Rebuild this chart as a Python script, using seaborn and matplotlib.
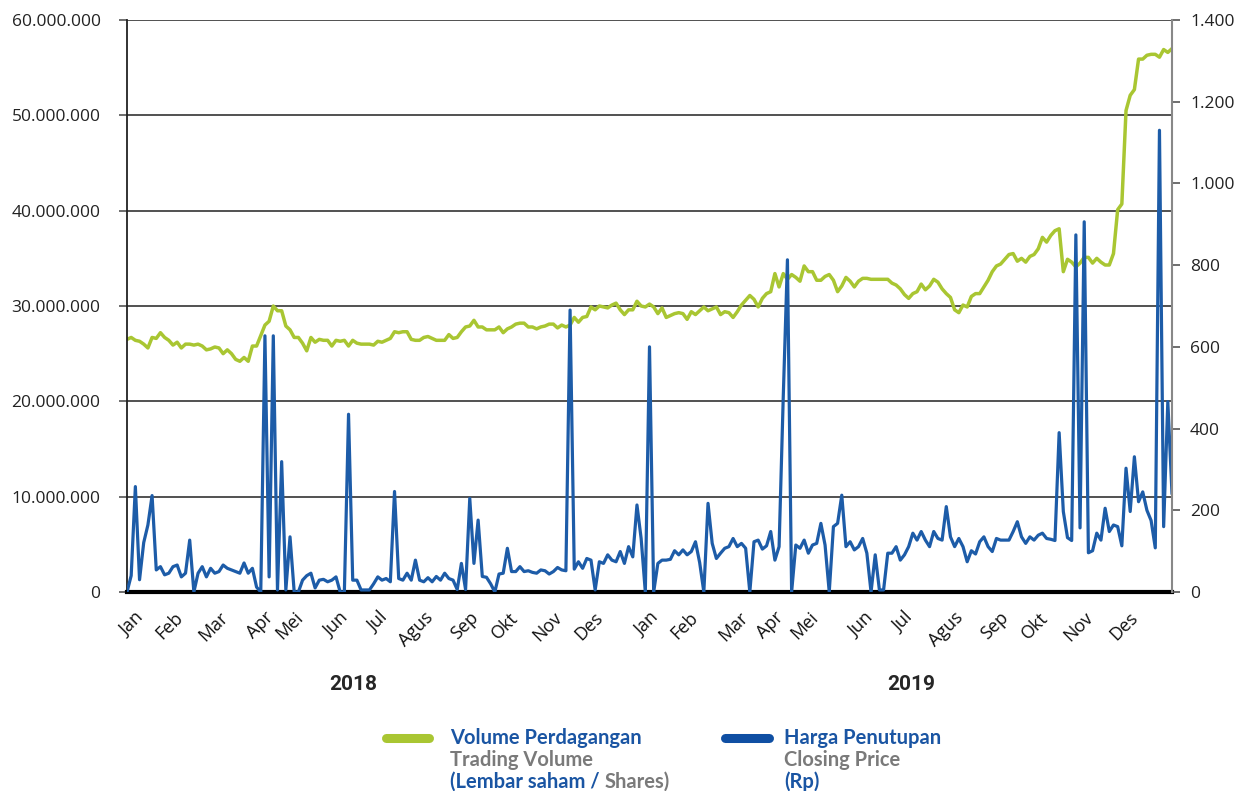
"""
Grafik volume perdagangan dan harga penutupan saham 2018-2019.
Output: out.png
"""

import matplotlib
matplotlib.use("Agg")

import numpy as np
import pandas as pd
import matplotlib.pyplot as plt
from matplotlib.lines import Line2D
from matplotlib.ticker import FuncFormatter, FixedLocator
import seaborn as sns

# DATA (satu titik per ~2 hari bursa)

# Volume perdagangan, dalam juta lembar saham
volume_juta = [
    26.5, 26.7, 26.4, 26.3, 26.0, 25.6, 26.7, 26.6, 27.2, 26.7,
    26.4, 25.9, 26.2, 25.6, 26.0, 26.0, 25.9, 26.0, 25.8, 25.4,
    25.5, 25.7, 25.6, 25.0, 25.4, 25.0, 24.4, 24.2, 24.6, 24.2,
    25.8, 25.8, 26.9, 28.0, 28.4, 30.0, 29.5, 29.5, 27.9, 27.5,
    26.7, 26.7, 26.1, 25.3, 26.7, 26.2, 26.5, 26.4, 26.4, 25.8,
    26.4, 26.3, 26.4, 25.8, 26.4, 26.1, 26.0, 26.0, 26.0, 25.9,
    26.3, 26.2, 26.4, 26.6, 27.3,
    27.2, 27.3, 27.3, 26.5, 26.4, 26.4, 26.7, 26.8, 26.6, 26.4,
    26.4, 26.4, 27.0, 26.6, 26.7, 27.3, 27.8, 27.9, 28.5, 27.8,
    27.8, 27.5, 27.5, 27.5, 27.8, 27.2, 27.6, 27.8, 28.1, 28.2,
    28.2, 27.8, 27.8, 27.6, 27.8, 27.9, 28.1, 28.1, 27.7, 28.0,
    27.8, 28.0, 28.8, 28.3, 28.8, 28.9, 29.9, 29.6, 30.0, 29.9,
    29.8, 30.1, 30.3, 29.6, 29.1, 29.6, 29.6, 30.5, 30.0, 29.9,
    30.2, 29.9, 29.2, 29.8,
    28.8, 29.0, 29.2, 29.3, 29.2, 28.6, 29.4, 29.1, 29.5, 29.9,
    29.5, 29.7, 29.9, 29.1, 29.4, 29.3, 28.8, 29.4, 30.1, 30.6,
    31.1, 30.7, 29.9, 30.8, 31.3, 31.5, 33.4, 32.0, 33.4, 32.8,
    33.3, 33.0, 32.6, 34.2, 33.6, 33.6, 32.7, 32.7, 33.1, 33.3,
    32.7, 31.5, 32.1, 33.0, 32.6, 32.0, 32.6, 32.9, 32.9, 32.8,
    32.8, 32.8, 32.8, 32.8, 32.4, 32.2, 31.8, 31.2, 30.8, 31.3,
    31.5, 32.3, 31.7, 32.1, 32.8,
    32.5, 31.8, 31.3, 30.9, 29.6, 29.3, 30.1, 29.9, 31.0, 31.3,
    31.3, 32.0, 32.7, 33.6, 34.2, 34.4, 34.9, 35.4, 35.5, 34.7,
    35.0, 34.6, 35.2, 35.4, 36.0, 37.2, 36.7, 37.4, 37.9, 38.1,
    33.6, 34.9, 34.6, 34.1, 34.5, 35.1, 35.1, 34.5, 35.0, 34.6,
    34.3, 34.3, 35.5, 40.1, 40.7, 50.5, 52.1, 52.7, 55.9, 55.9,
    56.3, 56.4, 56.4, 56.1, 56.9, 56.6, 57.0,
]

# Harga penutupan, Rp
harga_rp = [
    0, 40, 258, 30, 121, 164, 236, 54, 62, 42,
    46, 62, 66, 37, 46, 127, 0, 46, 62, 37,
    58, 46, 50, 66, 58, 54, 50, 46, 71, 46,
    58, 12, 0, 627, 37, 627, 5, 319, 5, 135,
    0, 0, 29, 40, 46, 10, 29, 31, 25, 29,
    37, 0, 0, 435, 29, 29, 5, 5, 5, 20,
    37, 29, 33, 25, 246,
    33, 29, 46, 29, 78, 29, 25, 35, 25, 38,
    29, 46, 33, 29, 6, 70, 6, 229, 70, 176,
    38, 36, 20, 0, 44, 46, 107, 50, 50, 62,
    50, 52, 48, 46, 54, 52, 44, 50, 60, 54,
    52, 690, 56, 74, 58, 82, 78, 5, 74, 70,
    91, 78, 74, 99, 70, 111, 86, 213, 131, 0,
    600, 0, 70, 78,
    78, 80, 101, 91, 103, 91, 99, 123, 72, 0,
    217, 119, 82, 95, 107, 111, 131, 111, 119, 107,
    0, 123, 127, 105, 113, 148, 78, 111, 478, 813,
    0, 115, 107, 127, 95, 115, 119, 168, 115, 0,
    160, 168, 237, 111, 123, 103, 111, 131, 95, 0,
    91, 5, 5, 95, 95, 111, 78, 91, 111, 144,
    127, 148, 127, 111, 148,
    131, 127, 209, 135, 111, 131, 111, 74, 101, 93,
    123, 135, 111, 99, 131, 127, 127, 127, 148, 172,
    135, 119, 135, 127, 139, 144, 131, 129, 126, 390,
    197, 133, 126, 874, 157, 906, 96, 101, 144, 127,
    205, 148, 164, 160, 113, 303, 197, 331, 221, 245,
    200, 175, 108, 1130, 160, 466, 240,
]

bulan = ["Jan", "Feb", "Mar", "Apr", "Mei", "Jun",
         "Jul", "Agus", "Sep", "Okt", "Nov", "Des"]
tahun = ["2018", "2019"]

# posisi label bulan pada sumbu x (indeks titik data)
POSISI_BULAN = [1.7, 11.2, 22.0, 32.8, 40.0, 50.7, 60.3, 71.0, 81.8, 91.4, 102.0, 111.7,
                124.9, 134.4, 146.4, 154.8, 163.2, 176.3, 185.9, 197.8, 208.6, 218.2, 228.9, 239.7]

# WARNA

HIJAU = "#a9c632"
BIRU = "#1d5ca8"
BIRU_TEKS = "#1a55a3"
ABU_TEKS = "#7a7a7a"


def format_titik(v, pos):
    return f"{int(round(v)):,}".replace(",", ".")


def main():
    sns.set_style("white")
    plt.rcParams["font.family"] = ["Open Sans", "DejaVu Sans"]

    df = pd.DataFrame({
        "hari": np.arange(len(volume_juta)),
        "volume": np.array(volume_juta) * 1e6,
        "harga": harga_rp,
    })

    fig = plt.figure(figsize=(12.43, 7.91), dpi=100)
    ax = fig.add_axes([127 / 1243, 1 - 592 / 791, (1172 - 127) / 1243, (592 - 20) / 791])

    # Volume (sumbu kiri)
    sns.lineplot(data=df, x="hari", y="volume", ax=ax, color=HIJAU, lw=2.5)
    ax.set_ylim(0, 60e6)
    ax.set_xlim(0, len(df) - 1)
    ax.yaxis.set_major_locator(FixedLocator(np.arange(0, 60e6 + 1, 10e6)))
    ax.yaxis.set_major_formatter(FuncFormatter(format_titik))
    ax.grid(axis="y", color="#333333", lw=1.2)
    ax.set_axisbelow(True)

    # Harga (sumbu kanan)
    ax2 = ax.twinx()
    sns.lineplot(data=df, x="hari", y="harga", ax=ax2, color=BIRU, lw=2.3)
    ax2.set_ylim(0, 1400)
    ax2.yaxis.set_major_locator(FixedLocator(np.arange(0, 1401, 200)))
    ax2.yaxis.set_major_formatter(FuncFormatter(format_titik))

    for a in (ax, ax2):
        a.set_xlabel("")
        a.set_ylabel("")
        for s in a.spines.values():
            s.set_visible(False)

    ax.spines["left"].set_visible(True)
    ax.spines["left"].set_color("#222222")
    ax.spines["left"].set_linewidth(1.3)
    ax.spines["bottom"].set_visible(True)
    ax.spines["bottom"].set_color("black")
    ax.spines["bottom"].set_linewidth(3)
    ax.spines["bottom"].set_zorder(5)
    ax2.spines["right"].set_visible(True)
    ax2.spines["right"].set_color("#888888")
    ax2.spines["right"].set_linewidth(1.5)

    ax.tick_params(axis="y", left=True, length=6, width=1.2, color="#555555",
                   labelsize=12.5, labelcolor="#222222", pad=13)
    ax2.tick_params(axis="y", right=True, length=6, width=1.2, color="#555555",
                    labelsize=12.5, labelcolor="#222222", pad=7)

    ax.set_xticks(POSISI_BULAN)
    ax.set_xticklabels(bulan * 2, rotation=45, ha="right", rotation_mode="anchor")
    ax.tick_params(axis="x", bottom=False, length=0, labelsize=13,
                   labelcolor="#111111", pad=12)

    # label tahun
    fig.text(353 / 1243, 1 - 684 / 791, tahun[0], ha="center", va="center",
             fontsize=15, fontweight="bold", family=["Roboto", "DejaVu Sans"])
    fig.text(911 / 1243, 1 - 684 / 791, tahun[1], ha="center", va="center",
             fontsize=15, fontweight="bold", family=["Roboto", "DejaVu Sans"])

    # legenda manual
    def baris_legenda(x0, x1, tx, warna, judul, sub, baris3):
        y0 = 1 - 738 / 791
        fig.add_artist(Line2D([x0 / 1243, x1 / 1243], [y0, y0], transform=fig.transFigure,
                              color=warna, lw=6.5, solid_capstyle="round"))
        kw = dict(fontsize=14.5, fontweight="bold", va="center", ha="left",
                  family=["Lato", "DejaVu Sans"])
        fig.text(tx / 1243, y0, judul, color=BIRU_TEKS, **kw)
        fig.text(tx / 1243, 1 - 760 / 791, sub, color=ABU_TEKS, **kw)
        teks = fig.text(tx / 1243, 1 - 782 / 791, baris3[0], color=BIRU_TEKS, **kw)
        if len(baris3) > 1:
            fig.canvas.draw()
            bb = teks.get_window_extent()
            fig.text((bb.x1 + 5) / 1243, 1 - 782 / 791, baris3[1], color=ABU_TEKS, **kw)

    baris_legenda(386, 429, 450, HIJAU, "Volume Perdagangan", "Trading Volume",
                  ["(Lembar saham /", "Shares)"])
    baris_legenda(725, 769, 784, "#0f4fa3", "Harga Penutupan", "Closing Price", ["(Rp)"])

    fig.savefig("out.png", dpi=100)


if __name__ == "__main__":
    main()
